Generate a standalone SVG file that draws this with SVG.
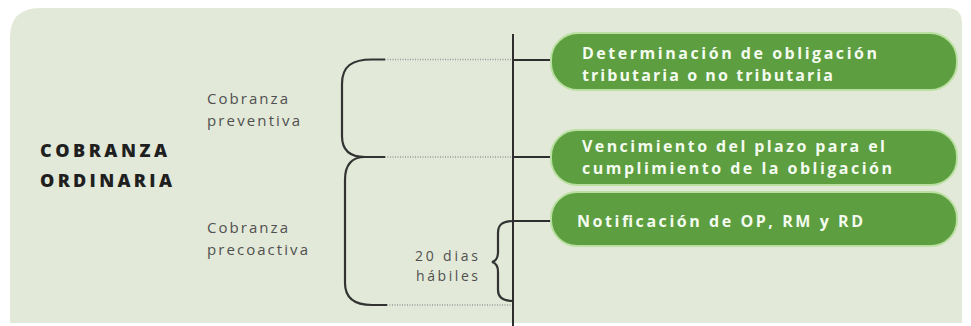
<svg xmlns="http://www.w3.org/2000/svg" width="971" height="326" viewBox="0 0 971 326">
  <style>
    .title { font-family: "Open Sans", "Liberation Sans", sans-serif; font-weight: 800; font-size: 18px; fill: #1f1f1f; }
    .label { font-family: "Open Sans", "Liberation Sans", sans-serif; font-size: 15px; fill: #505050; }
    .small { font-family: "Open Sans", "Liberation Sans", sans-serif; font-size: 14px; fill: #505050; }
    .box { fill: #5c9e40; stroke: #b9e0a0; stroke-width: 2; }
    .boxtext { font-family: "Open Sans", "Liberation Sans", sans-serif; font-weight: 700; font-size: 16px; fill: #f4fbef; }
    .solid { fill: none; stroke: #2e2e2e; stroke-width: 2; }
    .brace { fill: none; stroke: #333; stroke-width: 2.2; }
    .dotted { fill: none; stroke: #9a9a9a; stroke-width: 1.5; stroke-dasharray: 1 1.5; }
  </style>
  <rect width="971" height="326" fill="#ffffff"/>
  <path d="M10,323 V38 Q10,8 40,8 H947 Q962,8 962,23 V323 Z" fill="#e2e9d8"/>

  <g id="title">
    <text class="title"><tspan x="40" y="157" textLength="127" lengthAdjust="spacing">COBRANZA</tspan><tspan x="40" y="187" textLength="132" lengthAdjust="spacing">ORDINARIA</tspan></text>
  </g>

  <g id="label-preventiva">
    <text class="label"><tspan x="207" y="104" textLength="81" lengthAdjust="spacing">Cobranza</tspan><tspan x="207" y="126" textLength="93" lengthAdjust="spacing">preventiva</tspan></text>
  </g>

  <g id="label-precoactiva">
    <text class="label"><tspan x="207" y="233" textLength="81" lengthAdjust="spacing">Cobranza</tspan><tspan x="207" y="255" textLength="101" lengthAdjust="spacing">precoactiva</tspan></text>
  </g>

  <g id="label-20dias">
    <text class="small"><tspan x="415" y="261" textLength="63" lengthAdjust="spacing">20 dias</tspan><tspan x="416" y="280.5" textLength="62" lengthAdjust="spacing">hábiles</tspan></text>
  </g>

  <g id="connectors">
    <line class="dotted" x1="385" y1="59.5" x2="513" y2="59.5"/>
    <line class="dotted" x1="385" y1="157" x2="513" y2="157"/>
    <line class="dotted" x1="387" y1="305" x2="513" y2="305"/>
    <path class="brace" d="M385,59.5 H372 C352,59.5 342,66 342,84 V136 C342,150 350,157 365,157 H385"/>
    <path class="brace" d="M365,157 C352,157 345,165 345,180 V283 C345,298 355,305 372,305 H387"/>
    <path class="brace" d="M513,221 C502,221 498,225 498,233 V252 C498,258 496,261 492,262 C496,263 498,266 498,272 V290 C498,297 502,301 513,301"/>
    <line class="solid" x1="513" y1="34" x2="513" y2="326"/>
    <line class="solid" x1="513" y1="60" x2="552" y2="60"/>
    <line class="solid" x1="513" y1="157" x2="552" y2="157"/>
    <line class="solid" x1="513" y1="221" x2="552" y2="221"/>
  </g>

  <g id="node-determinacion">
    <rect class="box" x="551" y="33" width="406" height="57" rx="27"/>
    <text class="boxtext"><tspan x="582" y="59" textLength="295" lengthAdjust="spacing">Determinación de obligación</tspan><tspan x="582" y="81" textLength="251" lengthAdjust="spacing">tributaria o no tributaria</tspan></text>
  </g>

  <g id="node-vencimiento">
    <rect class="box" x="551" y="130" width="406" height="55" rx="26"/>
    <text class="boxtext"><tspan x="582" y="152" textLength="303" lengthAdjust="spacing">Vencimiento del plazo para el</tspan><tspan x="582" y="174" textLength="310" lengthAdjust="spacing">cumplimiento de la obligación</tspan></text>
  </g>

  <g id="node-notificacion">
    <rect class="box" x="551" y="192" width="406" height="54" rx="26"/>
    <text class="boxtext" x="577" y="227" textLength="286" lengthAdjust="spacing">Notificación de OP, RM y RD</text>
  </g>
</svg>
